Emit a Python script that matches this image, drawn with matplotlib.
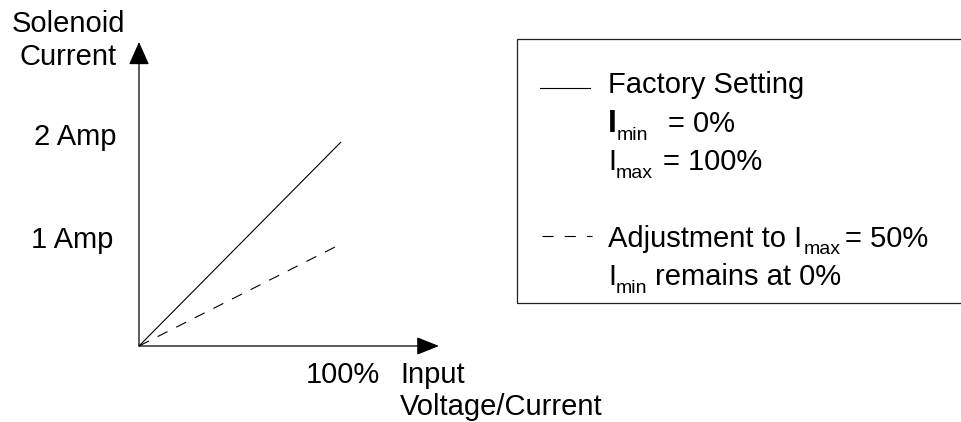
import matplotlib
matplotlib.use("Agg")
import matplotlib.pyplot as plt
from matplotlib.patches import Rectangle

# ---- data ----
input_pct = [0, 100]            # input voltage/current (%)
factory_amp = [0, 2.0]          # factory setting, Imax = 100%
adjusted_amp = [0, 1.0]         # adjustment to Imax = 50%
ytick_labels = ["2 Amp", "1 Amp"]
xtick_label = "100%"
legend_title_1 = "Factory Setting"
# rich legend lines: (text, kind) with kind in {"main", "sub", "bold"}
legend_line_2 = [("I", "bold"), ("min", "sub"), ("= 0%", "main")]
legend_line_3 = [("I", "main"), ("max", "sub"), ("= 100%", "main")]
legend_line_4 = [("Adjustment to I", "main"), ("max", "sub"), ("= 50%", "main")]
legend_line_5 = [("I", "main"), ("min", "sub"), ("remains at 0%", "main")]

plt.rcParams['font.family'] = ['Liberation Sans', 'DejaVu Sans']
plt.rcParams['lines.scale_dashes'] = False

W, H = 961, 422
fig = plt.figure(figsize=(W / 100, H / 100), dpi=100)
ax = fig.add_axes([0, 0, 1, 1])
ax.axis('off')

# pixel mapping: origin at (139, 346), 100% -> 341 px, 1 A -> 102 px
X0, Y0 = 139, 346
PX_PCT = (341 - 139) / 100.0
PX_AMP = 102.0
ax.set_xlim(-X0 / PX_PCT, (W - X0) / PX_PCT)
ax.set_ylim(-(H - Y0) / PX_AMP, Y0 / PX_AMP)

def fp(x, y):
    return (x / W, 1 - y / H)

FS = 21
SUB_FS = 14
col = 'black'

# axes with arrows
x_tip = (439 - X0) / PX_PCT
y_tip = (Y0 - 42) / PX_AMP
ax.annotate('', xy=(x_tip, 0), xytext=(0, 0),
            arrowprops=dict(arrowstyle='-|>,head_length=0.7,head_width=0.28',
                            mutation_scale=20, lw=0.9, color=col,
                            shrinkA=0, shrinkB=0))
ax.annotate('', xy=(0, y_tip), xytext=(0, 0),
            arrowprops=dict(arrowstyle='-|>,head_length=0.72,head_width=0.32',
                            mutation_scale=20, lw=0.9, color=col,
                            shrinkA=0, shrinkB=0))

# lines
ax.plot(input_pct, factory_amp, color=col, lw=0.8, solid_capstyle='butt')
ax.plot(input_pct, adjusted_amp, color=col, lw=0.8, linestyle=(0, (8, 7)))

# axis texts
fig.text(*fp(68, 32), "Solenoid", ha='center', va='baseline', fontsize=FS)
fig.text(*fp(68, 65), "Current", ha='center', va='baseline', fontsize=FS)
fig.text(*fp(117, 145), ytick_labels[0], ha='right', va='baseline', fontsize=FS)
fig.text(*fp(113, 248), ytick_labels[1], ha='right', va='baseline', fontsize=FS)
fig.text(*fp(380, 383), xtick_label, ha='right', va='baseline', fontsize=FS)
fig.text(*fp(400, 383), "Input", ha='left', va='baseline', fontsize=FS)
fig.text(*fp(400, 415), "Voltage/Current", ha='left', va='baseline', fontsize=FS)

# legend box
fig.patches.append(Rectangle(fp(517, 303), (975 - 517) / W, (303 - 39) / H,
                             transform=fig.transFigure, fill=False,
                             edgecolor='#222222', lw=0.9))
fig.add_artist(plt.Line2D([540 / W, 590 / W], [1 - 88 / H, 1 - 88 / H],
                          color=col, lw=0.8, transform=fig.transFigure))
fig.add_artist(plt.Line2D([542 / W, 592 / W], [1 - 236 / H, 1 - 236 / H],
                          color=col, lw=0.8, linestyle=(0, (8, 8)),
                          transform=fig.transFigure))

fig.text(*fp(608, 93), legend_title_1, ha='left', va='baseline', fontsize=FS)

def rich(parts, xs, baseline, drop):
    for (txt, kind), x in zip(parts, xs):
        if kind == "sub":
            fig.text(*fp(x, baseline + drop), txt, ha='left', va='baseline',
                     fontsize=SUB_FS)
        elif kind == "bold":
            fig.text(*fp(x, baseline), txt, ha='left', va='baseline',
                     fontsize=23, fontweight='bold')
        else:
            fig.text(*fp(x, baseline), txt, ha='left', va='baseline',
                     fontsize=FS)

rich(legend_line_2, [608, 617, 668], 132, 8)
rich(legend_line_3, [608, 616, 663], 170, 8)
rich(legend_line_4, [608, 804, 845], 247, 7)
rich(legend_line_5, [608, 616, 655], 285, 8)

fig.savefig('out.png', dpi=100)
